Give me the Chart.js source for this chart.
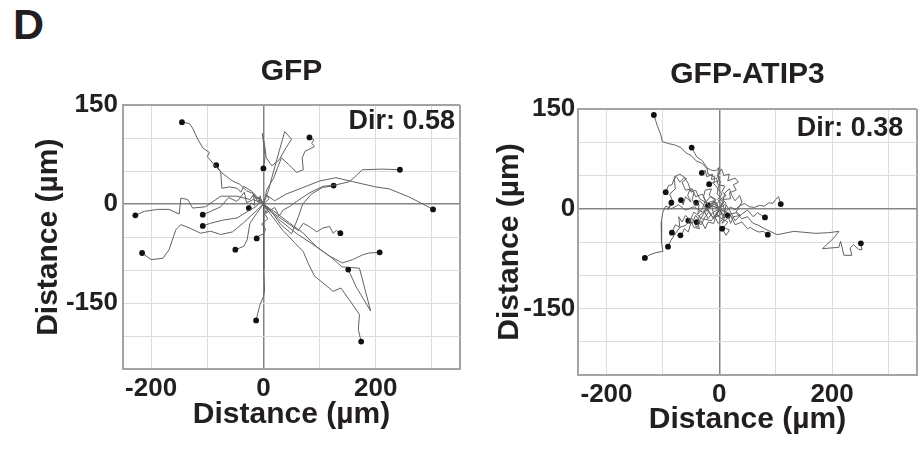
<!DOCTYPE html>
<html><head><meta charset="utf-8">
<script src="https://cdn.jsdelivr.net/npm/chart.js@4.4.1/dist/chart.umd.min.js"></script>
<style>
html,body{margin:0;padding:0;background:#fff;}
body{width:922px;height:452px;position:relative;overflow:hidden;font-family:"Liberation Sans",Arial,sans-serif;}
#panelLabel{position:absolute;left:13px;top:3px;font:bold 43px/43px "Liberation Sans",Arial,sans-serif;color:#231f20;}
#cA{position:absolute;left:0;top:0;}
#cB{position:absolute;left:470px;top:0;}
</style></head>
<body>
<div id="panelLabel">D</div>
<canvas id="cA" width="470" height="452"></canvas>
<canvas id="cB" width="452" height="452"></canvas>
<script>
// ---- axis ticks ----
const xGridValues = [-250,-200,-100,0,100,200,300,350];
const yGridValues = [150,100,50,0,-50,-100,-150,-200,-250];
const xTickLabels = [-200,0,200];
const yTickLabels = [150,0,-150];
const panelTitles = ['GFP','GFP-ATIP3'];
const dirValues = ['Dir: 0.58','Dir: 0.38'];

// ---- GFP tracks (x, y in µm) ----
const gfpTrack01 = [[0,0],[-6,10],[-10,8],[-18,16],[-30,20],[-42,30],[-55,35],[-75,48],[-90,62],[-100,72],[-96,78],[-108,85],[-118,100],[-126,115],[-132,122],[-145,124]];
const gfpTrack02 = [[0,0],[-12,12],[-22,20],[-35,27],[-40,18],[-47,24],[-60,26],[-74,24],[-76,49],[-84,59]];
const gfpTrack03 = [[0,0],[8,18],[15,40],[28,80],[38,110],[50,98],[40,85],[28,67],[15,58],[5,70],[2,90],[-2,107],[1,88],[3,72],[0,54]];
const gfpTrack04 = [[0,0],[6,22],[18,39],[32,70],[45,60],[59,48],[71,52],[69,70],[74,80],[91,87],[86,92],[90,97],[82,101]];
const gfpTrack05 = [[0,0],[8,-8],[4,-14],[20,-5],[28,-18],[35,-9],[46,-4],[59,4],[82,17],[106,27],[129,29],[153,34],[165,43],[176,52],[212,53],[243,52]];
const gfpTrack06 = [[0,0],[10,8],[5,14],[20,5],[40,15],[70,25],[100,35],[129,40],[159,34],[200,26],[224,23],[259,11],[282,1],[302,-8]];
const gfpTrack07 = [[0,0],[15,-12],[30,-30],[50,-45],[62,-20],[70,0],[85,15],[105,25],[125,28]];
const gfpTrack08 = [[0,0],[-6,10],[-10,4],[-18,14],[-24,7],[-47,12],[-76,12],[-103,-4],[-126,-6],[-135,7],[-147,9],[-150,-15],[-168,-8],[-188,-8],[-212,-11],[-228,-17]];
const gfpTrack09 = [[0,0],[-15,-12],[-35,-28],[-55,-42],[-76,-46],[-94,-41],[-112,-44],[-132,-36],[-147,-31],[-156,-39],[-168,-69],[-179,-82],[-200,-84],[-216,-74]];
const gfpTrack10 = [[0,0],[-18,7],[-30,2],[-34,18],[-47,4],[-62,10],[-76,-4],[-94,-11],[-108,-16]];
const gfpTrack11 = [[0,0],[-6,6],[-12,-3],[-24,-9],[-47,-21],[-71,-24],[-94,-29],[-108,-33]];
const gfpTrack12 = [[0,0],[-12,-14],[-24,-29],[-29,-54],[-35,-64],[-50,-69]];
const gfpTrack13 = [[0,0],[-8,3],[-5,12],[-12,8],[-18,15],[-15,-2],[-22,2],[-26,-6]];
const gfpTrack14 = [[0,0],[5,-8],[2,-15],[8,-22],[-3,-30],[4,-38],[0,-45],[-8,-48],[-12,-52]];
const gfpTrack15 = [[0,0],[1,-30],[0,-60],[1,-100],[2,-130],[0,-140],[-6,-152],[-10,-165],[-13,-176]];
const gfpTrack16 = [[0,0],[20,-15],[45,-30],[62,-40],[71,-29],[82,-34],[95,-42],[106,-36],[118,-34],[124,-44],[130,-40],[137,-44]];
const gfpTrack17 = [[0,0],[24,-14],[47,-29],[71,-44],[94,-64],[118,-79],[141,-89],[159,-84],[176,-77],[188,-74],[207,-73]];
const gfpTrack18 = [[0,0],[30,-25],[60,-45],[90,-62],[120,-80],[140,-95],[171,-97],[191,-162],[165,-125],[151,-99]];
const gfpTrack19 = [[0,0],[15,-18],[35,-40],[55,-58],[71,-72],[80,-90],[91,-109],[110,-122],[124,-132],[138,-127],[153,-145],[171,-167],[169,-190],[174,-208]];
const gfpTracks = [gfpTrack01,gfpTrack02,gfpTrack03,gfpTrack04,gfpTrack05,gfpTrack06,gfpTrack07,gfpTrack08,gfpTrack09,gfpTrack10,gfpTrack11,gfpTrack12,gfpTrack13,gfpTrack14,gfpTrack15,gfpTrack16,gfpTrack17,gfpTrack18,gfpTrack19];

// ---- GFP-ATIP3 tracks (x, y in µm) ----
const atipTrack01 = [[0,0],[4,8],[-3,14],[5,22],[-3,30],[2,40],[-3,48],[-1,62],[-6,57],[-14,58],[-24,62],[-30,68],[-41,72],[-50,80],[-59,84],[-68,92],[-79,96],[-90,98],[-101,101],[-104,112],[-110,125],[-113,133],[-116,141]];
const atipTrack02 = [[0,0],[-6,6],[4,15],[-4,22],[-2,30],[-10,38],[-8,48],[-20,52],[-22,62],[-30,72],[-40,78],[-45,86],[-49,92]];
const atipTrack03 = [[0,0],[8,10],[2,14],[12,20],[5,26],[10,34],[-2,36],[-5,46],[-14,44],[-12,52],[-22,48],[-25,58],[-31,54]];
const atipTrack04 = [[0,0],[12,8],[6,14],[20,15],[18,24],[30,28],[25,36],[34,40],[28,46],[15,42],[18,52],[8,50],[4,60],[-2,52],[0,42],[-8,40],[-18,37]];
const atipTrack05 = [[0,0],[-10,8],[-15,2],[-25,10],[-35,15],[-42,28],[-50,25],[-55,38],[-62,47],[-70,40],[-76,48],[-80,45],[-84,36],[-90,35],[-95,25]];
const atipTrack06 = [[0,0],[-10,12],[-22,8],[-30,22],[-42,18],[-48,30],[-60,28],[-66,40],[-58,45],[-70,52],[-80,48],[-78,30],[-88,22],[-82,10],[-92,-2],[-85,9]];
const atipTrack07 = [[0,0],[-6,10],[-15,8],[-22,-4],[-28,6],[-35,12],[-42,4],[-48,14],[-45,24],[-52,30],[-56,20],[-50,10],[-60,18],[-64,6],[-68,13]];
const atipTrack08 = [[0,0],[-12,4],[-6,14],[-18,20],[-14,30],[-25,28],[-28,18],[-25,12],[-30,0],[-38,-8],[-36,6],[-41,9]];
const atipTrack09 = [[0,0],[6,8],[10,-6],[20,3],[28,-2],[35,4],[45,8],[53,3],[62,2],[71,5],[80,4],[88,9],[95,8],[100,14],[105,18],[109,7]];
const atipTrack10 = [[0,0],[8,-14],[12,6],[20,-5],[28,-18],[40,-8],[50,-2],[60,-12],[68,-6],[75,-10],[81,-13]];
const atipTrack11 = [[0,0],[10,-12],[5,-22],[20,-10],[28,-24],[40,-20],[50,-30],[55,-28],[62,-32],[70,-35],[78,-34],[86,-39]];
const atipTrack12 = [[0,0],[10,-4],[20,-8],[30,-6],[40,-15],[50,-12],[60,-22],[70,-25],[80,-30],[95,-36],[103,-39],[132,-34],[171,-37],[194,-36],[212,-34],[203,-44],[183,-60],[212,-58],[215,-49],[221,-70],[235,-70],[232,-59],[238,-54],[247,-61],[253,-62],[251,-52]];
const atipTrack13 = [[0,0],[-8,-14],[-15,-10],[-22,2],[-28,-8],[-35,-18],[-42,-10],[-48,-22],[-55,-14],[-60,-10],[-66,-20],[-72,-12],[-70,-28],[-78,-24],[-84,-36]];
const atipTrack14 = [[0,0],[-12,-6],[-20,-15],[-26,-4],[-35,-10],[-38,-22],[-35,-30],[-45,-28],[-50,-20],[-55,-35],[-62,-30],[-66,-38],[-69,-40]];
const atipTrack15 = [[0,0],[-14,-18],[-30,-15],[-45,-5],[-52,-18],[-60,-25],[-70,-28],[-80,-40],[-86,-48],[-91,-57]];
const atipTrack16 = [[0,0],[-15,5],[-30,-5],[-45,3],[-60,-2],[-72,6],[-85,0],[-95,4],[-100,-5],[-103,-20],[-102,-40],[-103,-51],[-100,-64],[-112,-66],[-123,-69],[-128,-72],[-132,-74]];
const atipTrack17 = [[0,0],[-6,-8],[-10,-15],[-18,-4],[-25,-12],[-32,-24],[-40,-20]];
const atipTrack18 = [[0,0],[6,10],[10,24],[18,30],[22,20],[28,12],[36,20],[40,10],[30,-5],[38,-10],[25,-12],[20,-22],[15,-10]];
const atipTrack19 = [[0,0],[-4,-10],[6,-16],[-2,-22],[-10,-8],[-14,6],[-8,14],[-16,18],[-24,10],[-20,5]];
const atipTrack20 = [[0,0],[4,-8],[-6,-12],[-10,-22],[-20,-20],[-25,-30],[-32,-18],[-40,-28],[-48,-15],[-55,-18]];
const atipTrack21 = [[0,0],[10,-5],[5,-15],[15,-20],[8,-28],[18,-32],[12,-40],[5,-30]];
const atipTracks = [atipTrack01,atipTrack02,atipTrack03,atipTrack04,atipTrack05,atipTrack06,atipTrack07,atipTrack08,atipTrack09,atipTrack10,atipTrack11,atipTrack12,atipTrack13,atipTrack14,atipTrack15,atipTrack16,atipTrack17,atipTrack18,atipTrack19,atipTrack20,atipTrack21];

const FONT = '"Liberation Sans", Arial, Helvetica, sans-serif';
const INK = '#231f20';
Chart.defaults.font.family = FONT;
Chart.defaults.color = INK;

const dirLabelPlugin = {
  id: 'dirLabel',
  afterDraw(chart, args, opts) {
    const {ctx, chartArea} = chart;
    ctx.save();
    ctx.font = 'bold 27px ' + FONT;
    ctx.fillStyle = INK;
    ctx.textAlign = 'right';
    ctx.textBaseline = 'middle';
    ctx.fillText(opts.text, chartArea.right - opts.dx, chartArea.top + opts.dy);
    ctx.restore();
  }
};

function gridColor(ctx) {
  const v = ctx.tick ? ctx.tick.value : null;
  if (v === 0) return '#858585';
  if (v === -250 || v === 350 || v === 150) return '#a3a3a3';
  return '#dcdcdc';
}
function gridWidth(ctx) {
  const v = ctx.tick ? ctx.tick.value : null;
  if (v === 0) return 1.5;
  if (v === -250 || v === 350 || v === 150) return 2;
  return 1;
}

function build(canvasId, tracks, L) {
  const datasets = tracks.map(t => ({
    data: t.map(p => ({x: p[0], y: p[1]})),
    showLine: true,
    borderColor: '#626262',
    borderWidth: 1,
    tension: 0,
    pointRadius: c => c.dataIndex === c.dataset.data.length - 1 ? 2.9 : 0,
    pointBackgroundColor: '#111',
    pointBorderColor: '#111',
    pointBorderWidth: 0,
    pointHoverRadius: 0
  }));
  return new Chart(document.getElementById(canvasId), {
    type: 'scatter',
    data: {datasets},
    plugins: [dirLabelPlugin],
    options: {
      responsive: false,
      animation: false,
      events: [],
      layout: {padding: {left: 0, right: L.padRight, top: 0, bottom: 0}},
      plugins: {
        legend: {display: false},
        tooltip: {enabled: false},
        title: {display: true, text: L.title, fullSize: false, color: INK,
          font: {size: 30, weight: 'bold', family: FONT, lineHeight: 1.2},
          padding: {top: L.titleTop, bottom: L.titleBottom}},
        dirLabel: {text: L.dir, dx: L.dirDx, dy: L.dirDy}
      },
      scales: {
        x: {
          type: 'linear', min: -250, max: 350,
          afterBuildTicks: s => { s.ticks = xGridValues.map(v => ({value: v})); },
          afterFit: s => { s.height = L.xHeight; },
          grid: {color: gridColor, lineWidth: gridWidth, drawTicks: false},
          border: {display: true, color: '#a3a3a3', width: 2},
          ticks: {autoSkip: false, maxRotation: 0, padding: L.xTickPad, color: INK,
            font: {size: 26, weight: 'bold', family: FONT},
            callback: v => xTickLabels.includes(v) ? String(v) : ''},
          title: {display: true, text: 'Distance (µm)', color: INK,
            font: {size: 30, weight: 'bold', family: FONT, lineHeight: 1.2},
            padding: {top: 0, bottom: L.xTitlePad}}
        },
        y: {
          type: 'linear', min: -250, max: 150,
          afterBuildTicks: s => { s.ticks = yGridValues.map(v => ({value: v})); },
          afterFit: s => { s.width = L.yWidth; },
          grid: {color: gridColor, lineWidth: gridWidth, drawTicks: false},
          border: {display: true, color: '#a3a3a3', width: 2},
          ticks: {autoSkip: false, padding: L.yTickPad, color: INK,
            font: {size: 26, weight: 'bold', family: FONT},
            callback: v => yTickLabels.includes(v) ? String(v) : ''},
          title: {display: true, text: 'Distance (µm)', color: INK,
            font: {size: 30, weight: 'bold', family: FONT, lineHeight: 1.2},
            padding: {top: L.yTitlePad, bottom: 0}}
        }
      }
    }
  });
}

build('cA', gfpTracks, {
  title: panelTitles[0], dir: dirValues[0],
  padRight: 10, titleTop: 53.8, titleBottom: 15.2,
  xHeight: 82.7, xTickPad: 4, xTitlePad: 19.5,
  yWidth: 123, yTickPad: 5, yTitlePad: 31,
  dirDx: 5, dirDy: 16.5
});
build('cB', atipTracks, {
  title: panelTitles[1], dir: dirValues[1],
  padRight: 5.3, titleTop: 57, titleBottom: 16,
  xHeight: 77, xTickPad: 4, xTitlePad: 14,
  yWidth: 108.3, yTickPad: 3, yTitlePad: 22,
  dirDx: 13.4, dirDy: 20
});
</script>
</body></html>
